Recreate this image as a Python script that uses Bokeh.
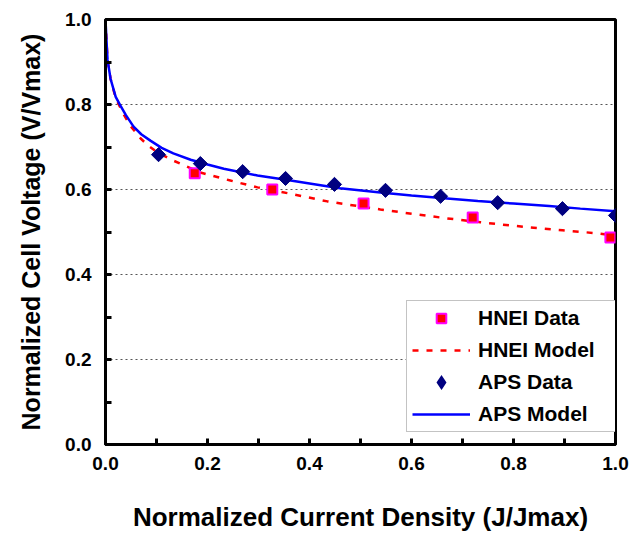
import numpy as np
from bokeh.plotting import figure
from bokeh.models import FixedTicker, Range1d, Legend, LegendItem
from bokeh.embed import file_html
from bokeh.resources import INLINE

# --- data ---
hnei_data_x = [0.175, 0.327, 0.506, 0.72, 0.99]
hnei_data_y = [0.638, 0.600, 0.567, 0.534, 0.487]

aps_data_x = [0.104, 0.186, 0.269, 0.353, 0.449, 0.549, 0.657, 0.769, 0.896, 1.0]
aps_data_y = [0.682, 0.661, 0.642, 0.626, 0.612, 0.598, 0.584, 0.569, 0.555, 0.539]

aps_model_x = [0.0, 0.002, 0.004, 0.01, 0.02, 0.029, 0.04, 0.055, 0.07, 0.088, 0.11,
               0.133, 0.167, 0.2, 0.232, 0.298, 0.363, 0.428, 0.46, 0.539, 0.6,
               0.67, 0.73, 0.8, 0.87, 0.931, 1.0]
aps_model_y = [1.0, 0.95, 0.905, 0.86, 0.818, 0.798, 0.775, 0.748, 0.73, 0.715, 0.698,
               0.685, 0.67, 0.659, 0.649, 0.633, 0.621, 0.609, 0.603, 0.593, 0.586,
               0.579, 0.573, 0.567, 0.561, 0.555, 0.549]

hnei_model_x = [0.0, 0.002, 0.004, 0.01, 0.02, 0.035, 0.05, 0.069, 0.085, 0.102, 0.133,
                0.186, 0.245, 0.298, 0.363, 0.435, 0.539, 0.6, 0.67, 0.735, 0.829,
                0.896, 0.964, 0.99]
hnei_model_y = [1.0, 0.95, 0.905, 0.86, 0.815, 0.778, 0.748, 0.72, 0.702, 0.687, 0.668,
                0.64, 0.621, 0.605, 0.59, 0.572, 0.553, 0.543, 0.532, 0.523, 0.511,
                0.504, 0.497, 0.493]

major_ticks = [0.0, 0.2, 0.4, 0.6, 0.8, 1.0]
minor_ticks = [0.1, 0.3, 0.5, 0.7, 0.9]
tick_labels = {0.0: "0.0", 0.2: "0.2", 0.4: "0.4", 0.6: "0.6", 0.8: "0.8", 1.0: "1.0"}

x_title = "Normalized Current Density (J/Jmax)"
y_title = "Normalized Cell Voltage (V/Vmax)"

FONT = "Liberation Sans"

p = figure(width=632, height=534, output_backend="svg", toolbar_location=None,
           x_range=Range1d(0, 1), y_range=Range1d(0, 1),
           min_border_left=105, min_border_right=17, min_border_top=19,
           min_border_bottom=90)
p.background_fill_color = "white"
p.border_fill_color = "white"
p.outline_line_color = "black"
p.outline_line_width = 3

for ax in (p.xaxis[0], p.yaxis[0]):
    ax.ticker = FixedTicker(ticks=major_ticks, minor_ticks=minor_ticks)
    ax.major_label_overrides = tick_labels
    ax.axis_line_color = "black"
    ax.axis_line_width = 3
    ax.major_tick_in = 6
    ax.major_tick_out = 0
    ax.minor_tick_in = 6
    ax.minor_tick_out = 0
    ax.major_tick_line_width = 3
    ax.minor_tick_line_width = 3
    ax.major_tick_line_color = "black"
    ax.minor_tick_line_color = "black"
    ax.major_label_text_font = FONT
    ax.major_label_text_font_style = "bold"
    ax.major_label_text_font_size = "19px"
    ax.major_label_text_color = "black"
    ax.axis_label_text_font = FONT
    ax.axis_label_text_font_style = "bold"
    ax.axis_label_text_color = "black"

p.xaxis.axis_label = x_title
p.yaxis.axis_label = y_title
p.xaxis.axis_label_text_font_size = "26px"
p.yaxis.axis_label_text_font_size = "25px"
p.xaxis.major_label_standoff = 12
p.yaxis.major_label_standoff = 14
p.xaxis.axis_label_standoff = 29
p.yaxis.axis_label_standoff = 17

p.xgrid.grid_line_color = None
p.ygrid.grid_line_color = "#555555"
p.ygrid.grid_line_width = 1
p.ygrid.grid_line_dash = "2 3"

r_hm = p.line(hnei_model_x, hnei_model_y, line_color="red", line_width=2.5,
              line_dash="6 8")
r_am = p.line(aps_model_x, aps_model_y, line_color="blue", line_width=2.5)
r_hd = p.scatter(hnei_data_x, hnei_data_y, marker="square", size=10,
                 fill_color="red", line_color="#FF00FF", line_width=2)
r_ad = p.scatter(aps_data_x, aps_data_y, marker="square", angle=np.pi / 4, size=10,
                 fill_color="#000080", line_color="#000080", line_width=1)
# legend-only glyph (legend ignores marker rotation); one off-screen NaN row
r_ad_leg = p.scatter(x=[np.nan], y=[np.nan], marker="diamond", size=20,
                     fill_color="#000080", line_color="#000080", line_width=3,
                     line_join="miter")

legend = Legend(items=[
    LegendItem(label="HNEI Data", renderers=[r_hd]),
    LegendItem(label="HNEI Model", renderers=[r_hm]),
    LegendItem(label="APS Data", renderers=[r_ad_leg]),
    LegendItem(label="APS Model", renderers=[r_am]),
], location=(301, 12))
legend.glyph_width = 58
legend.glyph_height = 24
legend.label_height = 24
legend.label_width = 133
legend.label_standoff = 8
legend.spacing = 8
legend.padding = 5
legend.margin = 0
legend.border_line_color = "#888888"
legend.border_line_width = 1
legend.background_fill_color = "white"
legend.background_fill_alpha = 1
legend.label_text_font = FONT
legend.label_text_font_style = "bold"
legend.label_text_font_size = "21px"
legend.label_text_color = "black"
p.add_layout(legend, "center")

open("out.html", "w").write(file_html(p, INLINE))
